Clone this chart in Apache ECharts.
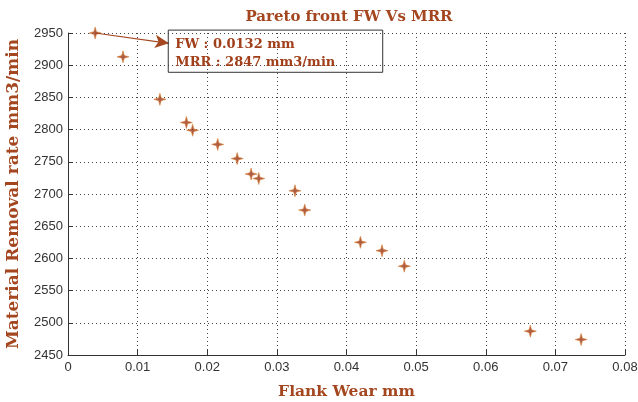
<!DOCTYPE html>
<html>
<head>
<meta charset="utf-8">
<script src="https://cdn.jsdelivr.net/npm/echarts@6/dist/echarts.min.js"></script>
<style>
  html, body { margin: 0; padding: 0; background: #fff; }
  #chart { width: 638px; height: 402px; }
</style>
</head>
<body>
<div id="chart"></div>
<script>
// Flank wear (mm) and material removal rate (mm3/min) on the Pareto front
const flankWear = [0.0039, 0.0079, 0.0132, 0.0170, 0.0179, 0.0215, 0.0243, 0.0263,
                   0.0274, 0.0326, 0.0340, 0.0420, 0.0451, 0.0483, 0.0664, 0.0737];
const removalRate = [2950, 2913, 2847, 2811, 2799, 2777, 2755, 2731,
                     2724, 2705, 2675, 2625, 2612, 2588, 2487, 2474];

const xTickLabels = ['0', '0.01', '0.02', '0.03', '0.04', '0.05', '0.06', '0.07', '0.08'];
const yTickLabels = ['2450', '2500', '2550', '2600', '2650', '2700', '2750', '2800', '2850', '2900', '2950'];

// Data tip for the highlighted solution
const tipPoint = [0.0132, 2847];
const tipLines = ['FW : 0.0132 mm', 'MRR : 2847 mm3/min'];
// Data-space placement of the tip box and its leader arrow
const tipBoxCorners = [[0.0144, 2954.5], [0.0452, 2889]];
const arrowTip = [0.0145, 2934];

const brown = '#a4461f';
const serif = '"DejaVu Serif", serif';
const sans = '"Liberation Sans", Arial, sans-serif';

const starPath = 'path://M0,-6 L1.3,-1.3 L6,0 L1.3,1.3 L0,6 L-1.3,1.3 L-6,0 L-1.3,-1.3 Z';

const chart = echarts.init(document.getElementById('chart'), null, { renderer: 'canvas' });

const gridDots = { color: '#444', width: 1, type: [1, 3] };

chart.setOption({
  animation: false,
  backgroundColor: '#fff',
  title: {
    text: 'Pareto front FW Vs MRR',
    left: 344,
    textAlign: 'center',
    top: 5,
    textStyle: { fontFamily: serif, fontWeight: 'bold', fontSize: 15, color: brown }
  },
  grid: { left: 68, right: 13, top: 33, bottom: 47, containLabel: false, outerBoundsMode: 'none' },
  xAxis: {
    type: 'value', min: 0, max: 0.08, interval: 0.01,
    name: 'Flank Wear mm', nameLocation: 'middle', nameGap: 29,
    nameTextStyle: { fontFamily: serif, fontWeight: 'bold', fontSize: 15.5, color: brown },
    axisLine: { show: true, onZero: false, lineStyle: { color: '#333', width: 1 } },
    axisTick: { show: true, inside: true, length: 5, lineStyle: { color: '#333' } },
    axisLabel: {
      fontFamily: sans, fontSize: 13, color: '#333', margin: 6,
      formatter: (v, i) => xTickLabels[i]
    },
    splitLine: { show: true, lineStyle: gridDots }
  },
  yAxis: {
    type: 'value', min: 2450, max: 2950, interval: 50,
    name: 'Material Removal rate mm3/min', nameLocation: 'middle', nameGap: 46, nameRotate: 90,
    nameTextStyle: { fontFamily: serif, fontWeight: 'bold', fontSize: 17, color: brown },
    axisLine: { show: true, onZero: false, lineStyle: { color: '#333', width: 1 } },
    axisTick: { show: true, inside: true, length: 5, lineStyle: { color: '#333' } },
    axisLabel: {
      fontFamily: sans, fontSize: 13, color: '#333', margin: 5,
      formatter: (v, i) => yTickLabels[i]
    },
    splitLine: { show: true, lineStyle: gridDots }
  },
  series: [{
    type: 'scatter',
    data: flankWear.map((x, i) => [x, removalRate[i]]),
    symbol: starPath,
    symbolSize: 12,
    itemStyle: { color: '#9a3414', borderColor: '#d9843f', borderWidth: 0.8 },
    markLine: {
      silent: true,
      symbol: ['none', 'arrow'],
      symbolSize: [10, 14],
      label: { show: false },
      lineStyle: { color: '#a4461f', width: 1.2, type: 'solid' },
      data: [[{ coord: [flankWear[0], removalRate[0]] }, { coord: arrowTip }]]
    }
  }]
});

// Tip box anchored in data space
const p0 = chart.convertToPixel({ gridIndex: 0 }, tipBoxCorners[0]);
const p1 = chart.convertToPixel({ gridIndex: 0 }, tipBoxCorners[1]);
chart.setOption({
  graphic: [
    {
      type: 'rect',
      shape: { x: p0[0], y: p0[1], width: p1[0] - p0[0], height: p1[1] - p0[1] },
      style: { fill: 'rgba(255,255,255,0)', stroke: '#333', lineWidth: 1 },
      z: 100
    },
    {
      type: 'text',
      x: p0[0] + 7, y: p0[1] + 15,
      style: { text: tipLines[0], fill: '#a03f1a', font: 'bold 13px ' + serif, textVerticalAlign: 'middle' },
      z: 101
    },
    {
      type: 'text',
      x: p0[0] + 7, y: p0[1] + 33,
      style: { text: tipLines[1], fill: '#a03f1a', font: 'bold 13px ' + serif, textVerticalAlign: 'middle' },
      z: 101
    }
  ]
});
</script>
</body>
</html>
